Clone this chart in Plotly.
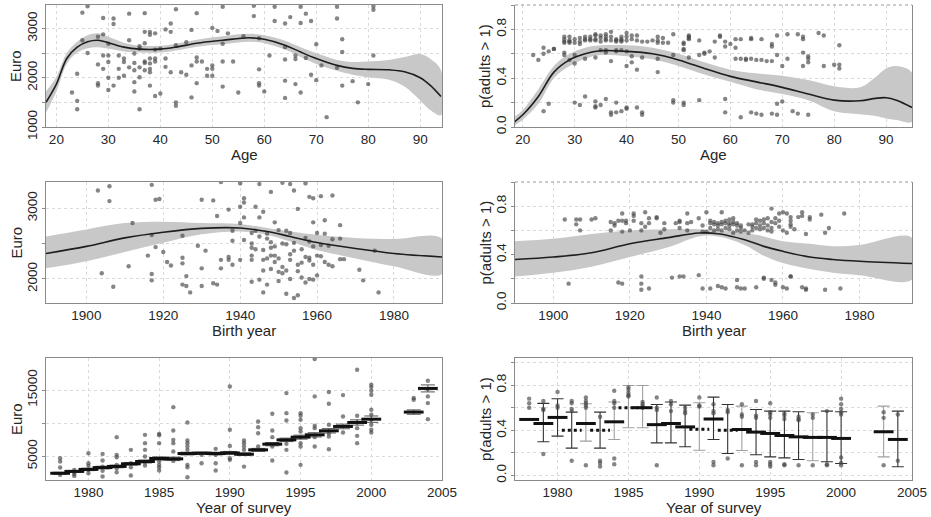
import plotly.graph_objects as go

# ------------------------------------------------------------------
# Data
# ------------------------------------------------------------------
# Income (Euro) by age: observations grouped by age
age_euro_pts = [
    (23, [1700]), (24, [2080, 1530, 1360]), (25, [3320, 2760]), (26, [3450, 2500]),
    (28, [2830, 2270, 1890, 1840]), (29, [3210, 2880, 2450, 2180]),
    (30, [2690, 2450, 2320, 2000, 1750]), (31, [3200, 3090, 1840]), (32, [2450, 2180, 2000]),
    (33, [2390, 2320, 2040]), (34, [3300, 2760, 2210]), (35, [2490, 2300, 2150, 1910, 1720]),
    (36, [2640, 2590, 2210, 2010, 1360]), (37, [3310, 2930, 2700, 2330, 2300, 2150]),
    (38, [2930, 2870, 2390, 2290, 2180, 2110, 1840]), (39, [2900, 2570, 2390, 2330, 1630]),
    (40, [2590, 1680]), (41, [2980, 2390, 2220]), (42, [3100, 2930, 2110]),
    (43, [3390, 2660, 1500, 1430]), (44, [2110]), (45, [2720, 2060]), (46, [2970, 2250, 1600]),
    (47, [3310, 2410, 2330, 1890]), (48, [2330]), (49, [2180, 2040]),
    (50, [3010, 2250, 2180, 2040]), (51, [2950]), (52, [3440, 2690, 2330, 1820]), (53, [2900]),
    (54, [2330]), (55, [1700]), (56, [2840]), (58, [3460, 3250]), (59, [2800, 2170, 1890, 1840]),
    (60, [1720]), (61, [2450]), (62, [3440, 3150]), (64, [3100, 2620, 2370, 1940, 1590]),
    (65, [3230]), (66, [2450, 2380, 1870]), (67, [3440, 3110, 1700]), (68, [3300, 2400]),
    (69, [3150, 2060]), (70, [2680, 1950]), (71, [2250]), (72, [1200]), (74, [3440, 3200, 2200]),
    (75, [2780, 2520, 1840]), (77, [1930]), (78, [1500]), (80, [1870]), (81, [3450, 3380, 2450]),
]
age_grid = [18, 20, 22, 24, 26, 28, 30, 33, 36, 40, 43, 47, 52, 57, 60, 64, 67, 70, 74, 77, 80, 84, 87, 90, 92, 94]
age_euro_fit = [1500, 1870, 2390, 2620, 2730, 2760, 2710, 2620, 2580, 2580, 2620, 2700, 2760, 2810, 2780,
                2660, 2520, 2390, 2250, 2190, 2170, 2160, 2120, 2000, 1840, 1620]
age_euro_hi = [1720, 2020, 2500, 2730, 2860, 2900, 2830, 2710, 2650, 2650, 2690, 2770, 2840, 2890, 2860,
               2750, 2620, 2500, 2360, 2320, 2330, 2360, 2420, 2480, 2380, 2150]
age_euro_lo = [1290, 1720, 2280, 2510, 2600, 2620, 2590, 2530, 2510, 2510, 2550, 2630, 2680, 2730, 2700,
               2570, 2420, 2280, 2140, 2060, 2010, 1960, 1820, 1540, 1340, 1240]

# p(adults > 1) by age
age_p_pts = [
    (22, [0.59]), (23, [0.55]), (24, [0.65, 0.60, 0.13]), (25, [0.62, 0.19]), (26, [0.64, 0.64]),
    (28, [0.74, 0.72, 0.70, 0.69, 0.61, 0.59]), (29, [0.74, 0.71, 0.70, 0.69, 0.55]),
    (30, [0.72, 0.69, 0.59, 0.52, 0.20]), (31, [0.73, 0.70, 0.68, 0.18]),
    (32, [0.74, 0.72, 0.71, 0.56, 0.25]), (33, [0.74, 0.72, 0.71]),
    (34, [0.76, 0.75, 0.72, 0.71, 0.57, 0.21, 0.17, 0.16]), (35, [0.75, 0.73, 0.70, 0.63, 0.18]),
    (36, [0.76, 0.74, 0.72, 0.71, 0.63, 0.61, 0.23]), (37, [0.78, 0.74, 0.71, 0.54, 0.12, 0.10]),
    (38, [0.72, 0.71, 0.70, 0.63, 0.62, 0.20, 0.12]), (39, [0.74, 0.72, 0.71, 0.70, 0.63, 0.13]),
    (40, [0.77, 0.74, 0.71, 0.62, 0.50, 0.16, 0.15]), (41, [0.75, 0.72, 0.58, 0.53]),
    (42, [0.75, 0.71, 0.47, 0.16]), (43, [0.70, 0.57, 0.12, 0.10]), (44, [0.70]), (45, [0.71]),
    (46, [0.74, 0.71, 0.69, 0.56, 0.45]), (47, [0.73, 0.69]), (48, [0.69]),
    (49, [0.76, 0.59, 0.22, 0.20]), (51, [0.69, 0.68, 0.64, 0.63, 0.20, 0.18]),
    (52, [0.75, 0.74, 0.73, 0.72, 0.57]), (54, [0.71, 0.59, 0.22]), (55, [0.61, 0.60]),
    (56, [0.62]), (57, [0.70, 0.57]), (58, [0.75, 0.74]), (59, [0.70, 0.66, 0.23, 0.12]),
    (60, [0.68]), (61, [0.72, 0.65, 0.56]), (62, [0.72, 0.56, 0.08]), (63, [0.56, 0.55]),
    (64, [0.73, 0.72, 0.56, 0.12]), (65, [0.55, 0.11]), (66, [0.72, 0.55, 0.10]), (67, [0.54]),
    (68, [0.68, 0.66, 0.54, 0.11]), (69, [0.75, 0.59, 0.19, 0.10]), (70, [0.50, 0.21]),
    (71, [0.76, 0.56]), (72, [0.13]), (73, [0.76, 0.11]), (74, [0.74, 0.72, 0.61, 0.50]),
    (75, [0.58, 0.56, 0.53, 0.10]), (77, [0.77]), (78, [0.75, 0.50]), (80, [0.51]),
    (81, [0.67, 0.51, 0.48]),
]
age_grid_p = [18, 20, 23, 26, 29, 32, 35, 40, 45, 50, 55, 60, 65, 70, 75, 80, 85, 88, 90, 92, 95]
age_p_fit = [0.03, 0.10, 0.25, 0.45, 0.55, 0.60, 0.625, 0.62, 0.60, 0.55, 0.48, 0.415, 0.37, 0.325,
             0.27, 0.22, 0.215, 0.235, 0.24, 0.22, 0.16]
age_p_hi = [0.07, 0.14, 0.31, 0.50, 0.60, 0.65, 0.67, 0.67, 0.65, 0.60, 0.53, 0.47, 0.44, 0.42,
            0.385, 0.335, 0.325, 0.41, 0.48, 0.50, 0.445]
age_p_lo = [0.00, 0.06, 0.19, 0.40, 0.50, 0.56, 0.59, 0.58, 0.555, 0.50, 0.43, 0.37, 0.31, 0.27,
            0.22, 0.13, 0.105, 0.09, 0.07, 0.057, 0.044]

# Income (Euro) by birth year
birth_euro_pts = [
    (1903, [3250]), (1904, [2080]), (1906, [3310, 3100]), (1907, [1890]), (1911, [2180]),
    (1912, [2790]), (1916, [2330]), (1917, [3330, 2620, 2070, 1980]), (1918, [3120, 2450]),
    (1919, [3130]), (1920, [2380]), (1921, [2240]), (1922, [2190]),
    (1925, [2610, 2300, 2220, 1920]), (1926, [2040, 1900]), (1927, [1810]), (1929, [2470]),
    (1930, [3120, 2150, 1900]), (1931, [2400]), (1933, [3110, 1940]), (1934, [2890, 1920]),
    (1935, [3370, 2270, 2150]), (1937, [2980, 2310, 2270]), (1938, [2680, 2540, 2200]),
    (1940, [3350, 3020, 2790, 2270]), (1941, [3140, 3080, 2870, 2550]),
    (1943, [2650, 2500, 2440, 2330, 2270, 1960]), (1944, [3020, 2680, 2420]),
    (1945, [3340, 2870, 2600, 1990]), (1946, [2950, 2410, 2270, 2120, 1810]),
    (1947, [2640, 2570, 2290, 1920]), (1948, [3230, 2520, 2440, 2330, 2140]),
    (1949, [2800, 2460, 2330, 2240]), (1950, [2690, 2290, 2100, 1970]),
    (1951, [3360, 2500, 2170, 2080]), (1952, [2680, 2490, 2120, 1790]),
    (1953, [3340, 2650, 2350, 2270, 2000]), (1954, [3250, 2510, 2400, 1730]),
    (1955, [2990, 2200, 2110, 1770]), (1956, [2420, 2230, 2020]), (1957, [3350, 2580, 2310, 1950]),
    (1958, [3160, 2530, 2300, 2260, 2000]), (1959, [3140, 2800, 2460, 2200, 1990]),
    (1960, [2650, 2330, 2050]), (1961, [3170, 2480, 2320]), (1962, [2830, 2640, 2240]),
    (1963, [2470, 2200]), (1964, [3180, 2560, 2180]), (1966, [2760, 2570, 2280]),
    (1967, [2280]), (1971, [2130]), (1972, [1980]), (1975, [2400]), (1976, [1810]),
]
birth_grid = [1889.5, 1900, 1910, 1920, 1930, 1940, 1947, 1953, 1960, 1970, 1980, 1992.5]
birth_euro_fit = [2360, 2460, 2580, 2660, 2715, 2720, 2670, 2600, 2515, 2430, 2360, 2310]
birth_euro_hi = [2600, 2700, 2790, 2810, 2790, 2775, 2720, 2670, 2625, 2580, 2565, 2570]
birth_euro_lo = [2150, 2250, 2380, 2510, 2630, 2670, 2625, 2530, 2410, 2290, 2180, 2070]

# p(adults > 1) by birth year
birth_p_pts = [
    (1903, [0.69]), (1904, [0.16]), (1906, [0.69, 0.65]), (1907, [0.69, 0.60]), (1910, [0.69]),
    (1911, [0.70]), (1915, [0.67, 0.60]), (1916, [0.66, 0.64]), (1917, [0.68, 0.17]),
    (1918, [0.74, 0.68, 0.59, 0.16]), (1919, [0.68, 0.66]), (1920, [0.60]),
    (1921, [0.74, 0.72, 0.68]), (1923, [0.66, 0.60, 0.22, 0.16, 0.11]), (1924, [0.75, 0.63]),
    (1925, [0.70, 0.66, 0.12]), (1927, [0.71, 0.70]), (1928, [0.58]), (1929, [0.66, 0.61]),
    (1931, [0.21]), (1932, [0.66]), (1933, [0.68, 0.67, 0.62, 0.22]), (1934, [0.22]),
    (1935, [0.74, 0.66, 0.60]), (1936, [0.67]), (1938, [0.70, 0.23]), (1939, [0.64, 0.59, 0.12]),
    (1940, [0.75, 0.59]), (1941, [0.68, 0.66, 0.62, 0.12]), (1942, [0.67, 0.65, 0.60]),
    (1943, [0.66, 0.64, 0.61, 0.14]), (1944, [0.75, 0.67, 0.65, 0.60, 0.13]),
    (1945, [0.68, 0.66, 0.62, 0.12]), (1946, [0.69, 0.66, 0.64, 0.61]),
    (1947, [0.70, 0.67, 0.65, 0.58]), (1948, [0.66, 0.64, 0.60, 0.19, 0.13]),
    (1949, [0.64, 0.62, 0.59, 0.12]), (1950, [0.60, 0.12]), (1951, [0.65, 0.58]),
    (1952, [0.65, 0.63, 0.60]), (1953, [0.69, 0.66, 0.62, 0.13]), (1954, [0.68, 0.64, 0.61]),
    (1955, [0.69, 0.66, 0.62, 0.21, 0.20]), (1956, [0.70, 0.64, 0.60]),
    (1957, [0.78, 0.67, 0.62, 0.59, 0.19]), (1958, [0.70, 0.66, 0.17, 0.15]),
    (1959, [0.74, 0.68, 0.63]), (1960, [0.75, 0.60, 0.13]), (1961, [0.74, 0.58, 0.12]),
    (1962, [0.71, 0.68, 0.65, 0.63, 0.22, 0.22]), (1963, [0.61]), (1964, [0.71]),
    (1965, [0.75, 0.72, 0.13]), (1966, [0.57, 0.12, 0.11]), (1967, [0.71, 0.69]), (1970, [0.73]),
    (1971, [0.58, 0.11]), (1972, [0.62]), (1975, [0.12]), (1976, [0.74]),
]
birth_grid_p = [1890, 1900, 1910, 1920, 1930, 1938, 1943, 1950, 1955, 1960, 1967, 1973, 1980, 1993.7]
birth_p_fit = [0.36, 0.38, 0.415, 0.49, 0.54, 0.578, 0.573, 0.523, 0.468, 0.427, 0.38, 0.36, 0.345, 0.326]
birth_p_hi = [0.51, 0.53, 0.57, 0.60, 0.61, 0.61, 0.60, 0.58, 0.55, 0.51, 0.49, 0.47, 0.48, 0.54]
birth_p_lo = [0.22, 0.25, 0.30, 0.38, 0.46, 0.55, 0.55, 0.48, 0.39, 0.33, 0.28, 0.25, 0.23, 0.195]

# Income (Euro) by year of survey
survey_years = [1978, 1979, 1980, 1981, 1982, 1983, 1984, 1985, 1986, 1987, 1988, 1989, 1990,
                1991, 1992, 1993, 1994, 1995, 1996, 1997, 1998, 1999, 2000, 2003, 2004]
survey_euro_mean = [2420, 2700, 3000, 3280, 3450, 3850, 4200, 4650, 4600, 5400, 5450, 5400, 5500,
                    5300, 5960, 6820, 7470, 7880, 8230, 8840, 9500, 10100, 10600, 11670, 15250]
survey_euro_err = [150, 150, 180, 200, 200, 200, 220, 250, 260, 200, 180, 200, 220,
                   200, 220, 250, 260, 300, 320, 330, 350, 400, 480, 330, 530]
survey_euro_pts = [
    (1978, [4700, 4190, 3280, 2170]), (1979, [2930, 2600, 2300, 2020]),
    (1980, [5450, 3940, 3540, 2930, 2420]), (1981, [5350, 4340, 3430, 2780, 1920]),
    (1982, [7880, 5200, 4850, 3690, 3180, 2580]), (1983, [5960, 3940, 3330, 2070]),
    (1984, [8230, 6970, 5960, 4950, 4090, 3590]), (1985, [8380, 8180, 6970, 4190, 3690, 3330, 2830]),
    (1986, [12420, 8890, 7470, 6970, 5710, 4290]),
    (1987, [10100, 7370, 6970, 6460, 5960, 3690, 3330, 1820]), (1988, [5200, 3940]),
    (1989, [6110, 5200, 3940, 2830]), (1990, [15550, 8990, 6560, 4700, 4450]),
    (1991, [7370, 6970, 6460, 5960, 3430]), (1992, [10250, 9390, 8480, 6460]),
    (1993, [11410, 8890, 7880, 6460, 4340]), (1994, [14540, 11510, 10400, 6870, 5960, 2530]),
    (1995, [11510, 11110, 10500, 9240, 8740, 7880, 6970, 6460, 3690]),
    (1996, [19700, 14040, 9600, 9240, 7880, 6460]), (1997, [14700, 12930, 9750, 8480, 7980, 6060]),
    (1998, [14240, 11010, 8590]), (1999, [18080, 11110, 10100, 9240, 8080, 6970]),
    (2000, [15810, 15450, 14900, 14290, 12020, 11260, 10500, 9750, 8990, 8590]),
    (2003, [13790, 13530]), (2004, [16410, 15150, 14040, 13030, 10600]),
]

# p(adults > 1) by year of survey
survey_p_mean = [0.496, 0.46, 0.514, 0.40, 0.46, 0.40, 0.475, 0.60, 0.60, 0.45, 0.46, 0.43, 0.41,
                 0.50, 0.40, 0.407, 0.384, 0.372, 0.354, 0.342, 0.337, 0.337, 0.328, 0.387, 0.319]
survey_p_hi = [None, 0.638, 0.679, 0.561, 0.635, 0.561, 0.65, 0.797, 0.797, 0.629, 0.65, 0.623, 0.644,
               0.694, 0.629, 0.614, 0.584, 0.57, 0.57, 0.564, 0.555, 0.57, 0.564, 0.614, 0.57]
survey_p_lo = [None, 0.298, 0.348, 0.242, 0.304, 0.242, 0.319, 0.422, 0.422, 0.289, 0.289, 0.254, 0.224,
               0.319, 0.195, 0.221, 0.183, 0.165, 0.156, 0.142, 0.13, 0.121, 0.106, 0.165, 0.077]
survey_p_pts = [
    (1978, [0.68, 0.64, 0.60]), (1979, [0.66, 0.58, 0.59, 0.19]), (1980, [0.74, 0.62, 0.60]),
    (1981, [0.66, 0.64, 0.59, 0.57, 0.13]), (1982, [0.69, 0.66, 0.64, 0.62, 0.60, 0.09]),
    (1983, [0.52, 0.13, 0.11, 0.08]), (1984, [0.75, 0.66, 0.64, 0.60, 0.15, 0.10]),
    (1985, [0.78, 0.76, 0.73, 0.71, 0.70]), (1986, [0.65, 0.63, 0.61, 0.60]),
    (1987, [0.69, 0.60, 0.58, 0.09]), (1988, [0.66, 0.63, 0.57]), (1989, [0.60, 0.57, 0.55]),
    (1990, [0.69, 0.62, 0.61]), (1991, [0.63, 0.57, 0.55, 0.12, 0.09]),
    (1992, [0.58, 0.56, 0.15]), (1993, [0.63, 0.54, 0.52, 0.09]),
    (1994, [0.66, 0.53, 0.51, 0.12, 0.09]), (1995, [0.64, 0.56, 0.54, 0.51, 0.12, 0.10, 0.08]),
    (1996, [0.55, 0.53, 0.50, 0.10, 0.09]), (1997, [0.52, 0.50, 0.49, 0.09]),
    (1998, [0.54, 0.51, 0.09]), (1999, [0.57, 0.10, 0.09]),
    (2000, [0.68, 0.63, 0.59, 0.56, 0.54, 0.16, 0.11, 0.09]), (2003, [0.56, 0.51, 0.09]),
    (2004, [0.54, 0.13]),
]
# drawing style per survey year (light error bars / dotted mean bars)
light_bar_years = {1982, 1984, 1985, 1986, 1990, 1993, 1998, 2003}
dotted_mean_years = {1981, 1983, 1985, 1990, 1992}

# ------------------------------------------------------------------
# Styling
# ------------------------------------------------------------------
W, H = 931, 517
FONT = "Liberation Sans, Arial, sans-serif"
TXT = "#262626"
FRAME = "#8a8a8a"
GRID = "#dadada"
PT_COLOR = "rgba(70,70,70,0.66)"
BAND = "#c8c8c8"
HALF = 0.7  # half-width (years) of the mean bars

# panel boxes in pixels: (left, right, top, bottom)
boxes = {
    1: (46, 442, 5, 127), 2: (515, 912, 5, 127),
    3: (46, 442, 182, 303), 4: (515, 912, 182, 303),
    5: (46, 442, 358, 480), 6: (515, 912, 358, 480),
}


def ax_ids(k):
    s = "" if k == 1 else str(k)
    return "x" + s, "y" + s


def flatten(groups):
    xs, ys = [], []
    for x, vals in groups:
        for v in vals:
            xs.append(x)
            ys.append(v)
    return xs, ys


fig = go.Figure()


def add_smooth(k, pts, grid, fit, lo, hi):
    xa, ya = ax_ids(k)
    fig.add_trace(go.Scatter(x=grid + grid[::-1], y=hi + lo[::-1], fill="toself", fillcolor=BAND,
                             mode="lines", line=dict(width=0, shape="spline"), xaxis=xa, yaxis=ya,
                             hoverinfo="skip"))
    px, py = flatten(pts)
    fig.add_trace(go.Scatter(x=px, y=py, mode="markers", xaxis=xa, yaxis=ya,
                             marker=dict(size=4.4, color=PT_COLOR, line=dict(width=0))))
    fig.add_trace(go.Scatter(x=grid, y=fit, mode="lines", xaxis=xa, yaxis=ya,
                             line=dict(color="#1e1e1e", width=1.6, shape="spline")))


add_smooth(1, age_euro_pts, age_grid, age_euro_fit, age_euro_lo, age_euro_hi)
add_smooth(2, age_p_pts, age_grid_p, age_p_fit, age_p_lo, age_p_hi)
add_smooth(3, birth_euro_pts, birth_grid, birth_euro_fit, birth_euro_lo, birth_euro_hi)
add_smooth(4, birth_p_pts, birth_grid_p, birth_p_fit, birth_p_lo, birth_p_hi)


def mean_bars(years, means, keep):
    xs, ys = [], []
    for yr, m in zip(years, means):
        if keep(yr):
            xs += [yr - HALF, yr + HALF, None]
            ys += [m, m, None]
    return xs, ys


# Panel 5: income by survey year
xa, ya = ax_ids(5)
px, py = flatten(survey_euro_pts)
fig.add_trace(go.Scatter(x=px, y=py, mode="markers", xaxis=xa, yaxis=ya,
                         marker=dict(size=4.4, color=PT_COLOR, line=dict(width=0))))
fig.add_trace(go.Scatter(x=survey_years, y=survey_euro_mean, mode="markers", xaxis=xa, yaxis=ya,
                         marker=dict(size=1, opacity=0),
                         error_y=dict(type="data", array=survey_euro_err, color="#555555",
                                      thickness=1, width=7)))
bx, by = mean_bars(survey_years, survey_euro_mean, lambda y: True)
fig.add_trace(go.Scatter(x=bx, y=by, mode="lines", xaxis=xa, yaxis=ya,
                         line=dict(color="#111111", width=3)))

# Panel 6: p(adults > 1) by survey year
xa, ya = ax_ids(6)
for light in (False, True):
    sel = [i for i, yr in enumerate(survey_years)
           if survey_p_hi[i] is not None and ((yr in light_bar_years) == light)]
    fig.add_trace(go.Scatter(
        x=[survey_years[i] for i in sel], y=[survey_p_mean[i] for i in sel],
        mode="markers", xaxis=xa, yaxis=ya, marker=dict(size=1, opacity=0),
        error_y=dict(type="data", symmetric=False,
                     array=[survey_p_hi[i] - survey_p_mean[i] for i in sel],
                     arrayminus=[survey_p_mean[i] - survey_p_lo[i] for i in sel],
                     color="#a0a0a0" if light else "#333333", thickness=1.1, width=6)))
px, py = flatten(survey_p_pts)
fig.add_trace(go.Scatter(x=px, y=py, mode="markers", xaxis=xa, yaxis=ya,
                         marker=dict(size=4.4, color=PT_COLOR, line=dict(width=0))))
bx, by = mean_bars(survey_years, survey_p_mean, lambda y: y not in dotted_mean_years)
fig.add_trace(go.Scatter(x=bx, y=by, mode="lines", xaxis=xa, yaxis=ya,
                         line=dict(color="#111111", width=3)))
bx, by = mean_bars(survey_years, survey_p_mean, lambda y: y in dotted_mean_years)
fig.add_trace(go.Scatter(x=bx, y=by, mode="lines", xaxis=xa, yaxis=ya,
                         line=dict(color="#111111", width=3, dash="dot")))

# ------------------------------------------------------------------
# Axes
# ------------------------------------------------------------------
x_specs = {
    1: dict(range=[18, 94.2], dtick=10, tick0=0),
    2: dict(range=[18.5, 95], dtick=10, tick0=0),
    3: dict(range=[1889.5, 1992.5], dtick=20, tick0=1900),
    4: dict(range=[1890, 1993.7], dtick=20, tick0=1900),
    5: dict(range=[1977, 2005], dtick=5, tick0=1980),
    6: dict(range=[1977, 2005], dtick=5, tick0=1980),
}
y_specs = {
    1: dict(range=[1000, 3475], tickvals=[1000, 2000, 3000], minor_dtick=500, fmt="d"),
    2: dict(range=[0, 1], tickvals=[0, 0.4, 0.8], minor_dtick=0.2, fmt=".1f"),
    3: dict(range=[1660, 3370], tickvals=[2000, 3000], minor_dtick=500, fmt="d"),
    4: dict(range=[0, 1], tickvals=[0, 0.4, 0.8], minor_dtick=0.2, fmt=".1f"),
    5: dict(range=[1400, 19850], tickvals=[5000, 15000], minor_dtick=5000, fmt="d"),
    6: dict(range=[-0.04, 1.04], tickvals=[0, 0.4, 0.8], minor_dtick=0.2, fmt=".1f"),
}
open_top = {2, 4}

layout = dict(
    width=W, height=H, autosize=False, margin=dict(l=0, r=0, t=0, b=0, pad=0),
    paper_bgcolor="white", plot_bgcolor="white", showlegend=False,
    font=dict(family=FONT, size=13.5, color=TXT),
)

common = dict(showline=True, linecolor=FRAME, linewidth=1, automargin=False,
              tickcolor=FRAME, showgrid=True, gridcolor=GRID, griddash="dot", gridwidth=1,
              zeroline=False, tickfont=dict(family=FONT, size=13.5, color=TXT))

for k, (l, r, t, b) in boxes.items():
    xs = "" if k == 1 else str(k)
    xd = [l / W, r / W]
    yd = [1 - b / H, 1 - t / H]
    xsp, ysp = x_specs[k], y_specs[k]
    layout["xaxis" + xs] = dict(common, domain=xd, anchor="y" + xs, range=xsp["range"],
                                tickmode="linear", dtick=xsp["dtick"], tick0=xsp["tick0"],
                                ticks="", mirror=(k not in open_top))
    layout["yaxis" + xs] = dict(common, domain=yd, anchor="x" + xs, range=ysp["range"],
                                tickmode="array", tickvals=ysp["tickvals"], tickformat=ysp["fmt"],
                                tickangle=-90, mirror=True, ticks="outside", ticklen=3,
                                minor=dict(dtick=ysp["minor_dtick"], tick0=0, ticks="outside",
                                           ticklen=3, tickcolor=FRAME, showgrid=True,
                                           gridcolor=GRID, griddash="dot", gridwidth=1))

shapes = []
for k in open_top:
    xs = "" if k == 1 else str(k)
    shapes.append(dict(type="line", xref="x" + xs + " domain", yref="y" + xs + " domain",
                       x0=0, x1=1, y0=1, y1=1, line=dict(color="#9a9a9a", width=1, dash="dot")))
layout["shapes"] = shapes

# axis titles
x_titles = {1: "Age", 2: "Age", 3: "Birth year", 4: "Birth year", 5: "Year of survey", 6: "Year of survey"}
y_titles = {1: "Euro", 2: "p(adults > 1)", 3: "Euro", 4: "p(adults > 1)", 5: "Euro", 6: "p(adults > 1)"}
ann = []
for k, (l, r, t, b) in boxes.items():
    ann.append(dict(text=x_titles[k], xref="paper", yref="paper", x=(l + r) / 2 / W,
                    y=1 - (b + 27) / H, xanchor="center", yanchor="middle", showarrow=False,
                    borderpad=0, font=dict(family=FONT, size=15, color=TXT)))
    ann.append(dict(text=y_titles[k], xref="paper", yref="paper", x=(l - 30) / W,
                    y=1 - (t + b) / 2 / H, xanchor="center", yanchor="middle", showarrow=False,
                    borderpad=0, textangle=-90, font=dict(family=FONT, size=15, color=TXT)))
layout["annotations"] = ann

fig.update_layout(**layout)
fig.write_html("out.html")
